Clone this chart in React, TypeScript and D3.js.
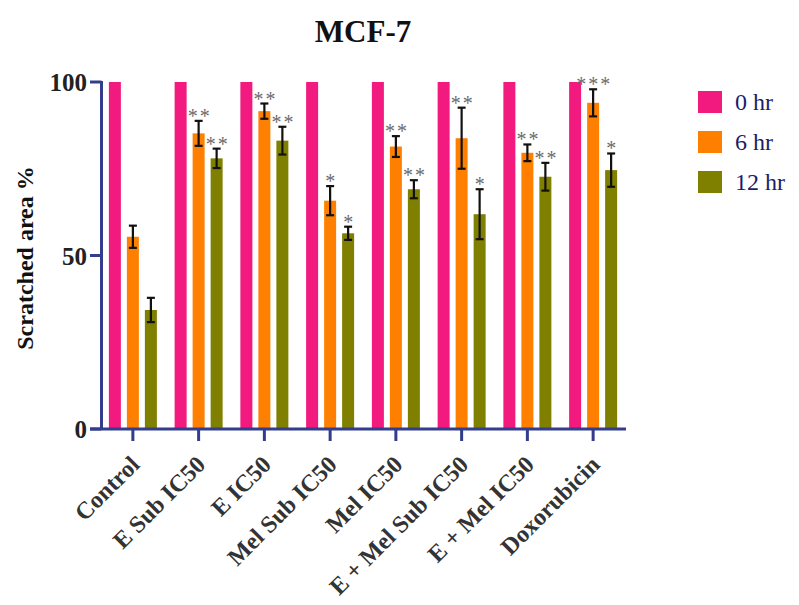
import React from 'react';
import * as d3 from 'd3';

const categories = ['Control', 'E Sub IC50', 'E IC50', 'Mel Sub IC50', 'Mel IC50', 'E + Mel Sub IC50', 'E + Mel IC50', 'Doxorubicin'];
const seriesNames = ['0 hr', '6 hr', '12 hr'];
const seriesColors = ['#f2197f', '#ff8000', '#808000'];

const values0 = [100, 100, 100, 100, 100, 100, 100, 100];
const values6 = [55.4, 85.2, 91.6, 65.8, 81.4, 83.8, 79.6, 94.0];
const values12 = [34.3, 78.0, 83.1, 56.4, 69.1, 61.9, 72.7, 74.6];
const err6 = [3.2, 3.6, 2.2, 4.2, 3.0, 8.8, 2.4, 3.9];
const err12 = [3.5, 2.8, 4.0, 1.9, 2.6, 7.2, 4.0, 4.8];
const stars6 = ['', '**', '**', '*', '**', '**', '**', '***'];
const stars12 = ['', '**', '**', '*', '**', '*', '**', '*'];
const yTicks = [0, 50, 100];

const W = 799;
const H = 605;
const axisColor = '#333d8c';
const serif = "'Liberation Serif', 'Times New Roman', Times, 'DejaVu Serif', serif";

export default function App() {
  const x0 = d3.scaleBand<string>().domain(categories).range([100, 626]).padding(0);
  const x1 = d3.scaleBand<string>().domain(seriesNames).range([-24, 24]).paddingInner(1 / 3);
  const y = d3.scaleLinear().domain([0, 100]).range([429, 82]);

  const seriesVals = [values0, values6, values12];
  const seriesErr = [null, err6, err12];
  const seriesStars = [null, stars6, stars12];
  const axisX = 101.5;

  return (
    <svg width={W} height={H} style={{ position: 'absolute', left: 0, top: 0, background: '#fff', fontFamily: serif }}>
      <text x={363} y={42} textAnchor="middle" fontSize={31} fontWeight="bold" fill="#111">MCF-7</text>

      <text transform={`translate(33,258) rotate(-90)`} textAnchor="middle" fontSize={24} fontWeight="bold" fill="#111">Scratched area %</text>

      {/* bars */}
      {categories.map((c, i) => {
        const cx = (x0(c) as number) + x0.bandwidth() / 2;
        return (
          <g key={c}>
            {seriesNames.map((s, j) => {
              const v = seriesVals[j][i];
              const bx = cx + (x1(s) as number);
              const bw = x1.bandwidth();
              const e = seriesErr[j];
              const st = seriesStars[j];
              const top = e ? y(v + e[i]) : y(v);
              return (
                <g key={s}>
                  <rect x={bx} y={y(v)} width={bw} height={y(0) - y(v)} fill={seriesColors[j]} />
                  {e && (
                    <g stroke="#111" strokeWidth={2.2}>
                      <line x1={bx + bw / 2} x2={bx + bw / 2} y1={y(v + e[i])} y2={y(v - e[i])} />
                      <line x1={bx + bw / 2 - 4} x2={bx + bw / 2 + 4} y1={y(v + e[i])} y2={y(v + e[i])} />
                      <line x1={bx + bw / 2 - 4} x2={bx + bw / 2 + 4} y1={y(v - e[i])} y2={y(v - e[i])} />
                    </g>
                  )}
                  {st && st[i] && (
                    <text x={bx + bw / 2 + 1} y={top + 2} textAnchor="middle" fontSize={20} fill="#6b6b6b" letterSpacing={2}>
                      {st[i]}
                    </text>
                  )}
                </g>
              );
            })}
          </g>
        );
      })}

      {/* y axis */}
      <line x1={axisX} x2={axisX} y1={y(100) - 1} y2={y(0)} stroke={axisColor} strokeWidth={3} />
      {yTicks.map(t => (
        <g key={t}>
          <line x1={90} x2={axisX} y1={y(t)} y2={y(t)} stroke={axisColor} strokeWidth={3} />
          <text x={87} y={y(t) + 9} textAnchor="end" fontSize={25} fontWeight="bold" fill="#222">{t}</text>
        </g>
      ))}

      {/* x axis */}
      <line x1={90} x2={626} y1={y(0)} y2={y(0)} stroke={axisColor} strokeWidth={3} />
      {categories.map(c => {
        const cx = (x0(c) as number) + x0.bandwidth() / 2;
        return (
          <g key={c}>
            <line x1={cx} x2={cx} y1={y(0)} y2={y(0) + 12} stroke={axisColor} strokeWidth={3} />
            <text transform={`translate(${cx + 8},${y(0) + 37}) rotate(-45)`} textAnchor="end" fontSize={24} fontWeight="bold" fill="#333">{c}</text>
          </g>
        );
      })}

      {/* legend */}
      {seriesNames.map((s, j) => (
        <g key={s} transform={`translate(698,${91 + j * 40})`}>
          <rect x={0} y={0} width={24} height={22} fill={seriesColors[j]} />
          <text x={37} y={19} fontSize={24} fill="#1c1c6b">{s}</text>
        </g>
      ))}
    </svg>
  );
}
